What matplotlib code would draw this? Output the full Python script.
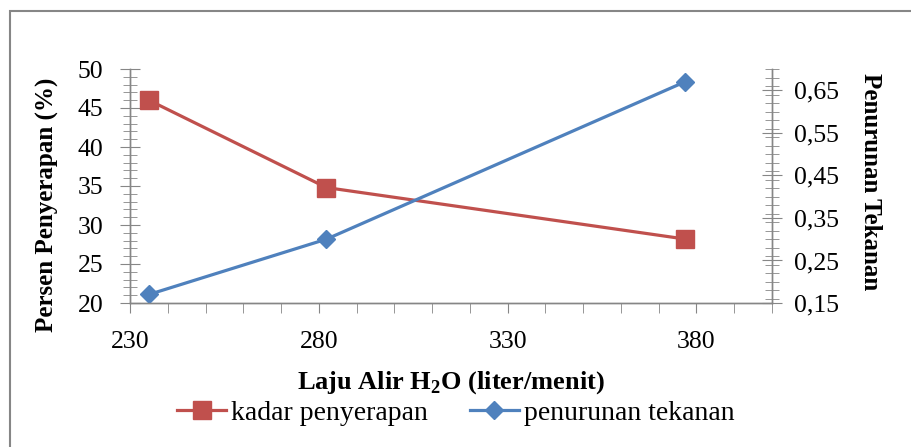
import matplotlib
matplotlib.use("Agg")
import matplotlib.pyplot as plt
from matplotlib.patches import Rectangle
from matplotlib.ticker import MultipleLocator, FixedLocator, FuncFormatter

# laju alir air (liter/menit)
laju_alir = [235, 282, 377]
# persen penyerapan (%)
kadar_penyerapan = [46.0, 34.8, 28.2]
# penurunan tekanan
penurunan_tekanan = [0.17, 0.30, 0.67]

x_labels = [230, 280, 330, 380]
y2_ticks = [0.15, 0.25, 0.35, 0.45, 0.55, 0.65]

red = "#C0504D"
blue = "#4F81BD"
grey = "#868686"

plt.rcParams["font.family"] = ["Liberation Serif", "DejaVu Serif"]
plt.rcParams["mathtext.fontset"] = "custom"
plt.rcParams["mathtext.rm"] = "Liberation Serif"
plt.rcParams["mathtext.bf"] = "Liberation Serif:bold"

fig = plt.figure(figsize=(9.12, 4.47), dpi=100)
fig.patches.append(Rectangle((10 / 912, -0.1), 1.2, 1.1 - 11 / 447,
                             transform=fig.transFigure, fill=False,
                             edgecolor=grey, linewidth=1.5))

ax = fig.add_axes([130 / 912, 1 - 303 / 447, 642 / 912, 234 / 447])
ax2 = ax.twinx()

l1, = ax.plot(laju_alir, kadar_penyerapan, color=red, linewidth=2.3,
              marker="s", markersize=12.5, label="kadar penyerapan")
l2, = ax2.plot(laju_alir, penurunan_tekanan, color=blue, linewidth=2.3,
               marker="D", markersize=9, label="penurunan tekanan")

ax.set_xlim(230, 400)
ax.set_ylim(20, 50)
ax2.set_ylim(0.15, 0.70)

for a in (ax, ax2):
    a.spines["top"].set_visible(False)
    for s in ("left", "right", "bottom"):
        a.spines[s].set_color(grey)
        a.spines[s].set_linewidth(1.0)

ax.xaxis.set_major_locator(FixedLocator(x_labels))
ax.xaxis.set_minor_locator(MultipleLocator(10))
ax.tick_params(axis="x", which="both", direction="out", length=7,
               color=grey, labelsize=18.5, pad=13)

ax.yaxis.set_major_locator(MultipleLocator(5))
ax.yaxis.set_minor_locator(MultipleLocator(1))
ax.tick_params(axis="y", which="major", direction="inout", length=14,
               color=grey, labelsize=18.5, pad=12)
ax.tick_params(axis="y", which="minor", direction="inout", length=10,
               color=grey)

ax2.yaxis.set_major_locator(FixedLocator(y2_ticks))
ax2.yaxis.set_minor_locator(MultipleLocator(0.02))
ax2.yaxis.set_major_formatter(FuncFormatter(lambda v, p: f"{v:.2f}".replace(".", ",")))
ax2.tick_params(axis="y", which="major", direction="inout", length=14,
                color=grey, labelsize=18.5, pad=9)
ax2.tick_params(axis="y", which="minor", direction="inout", length=10,
                color=grey)

ax.set_ylabel("Persen Penyerapan (%)", fontsize=18, fontweight="bold",
              va="center")
ax.yaxis.set_label_coords(-0.129, 0.42)
ax2.set_ylabel("Penurunan Tekanan", fontsize=18, fontweight="bold",
               rotation=-90)
ax2.yaxis.label.set_va("center")
ax2.yaxis.set_label_coords(1.153, 0.517)
ax.set_xlabel(r"Laju Alir H$_\mathbf{2}$O (liter/menit)", fontsize=19,
              fontweight="bold", va="center")
ax.xaxis.set_label_coords(0.5, -0.342)

fig.legend(handles=[l1, l2], loc="center", bbox_to_anchor=(0.5, 1 - 413 / 447),
           ncol=2, frameon=False, fontsize=20, handlelength=1.75,
           handletextpad=0.2, columnspacing=1.5, borderpad=0)

fig.savefig("out.png", dpi=100)
